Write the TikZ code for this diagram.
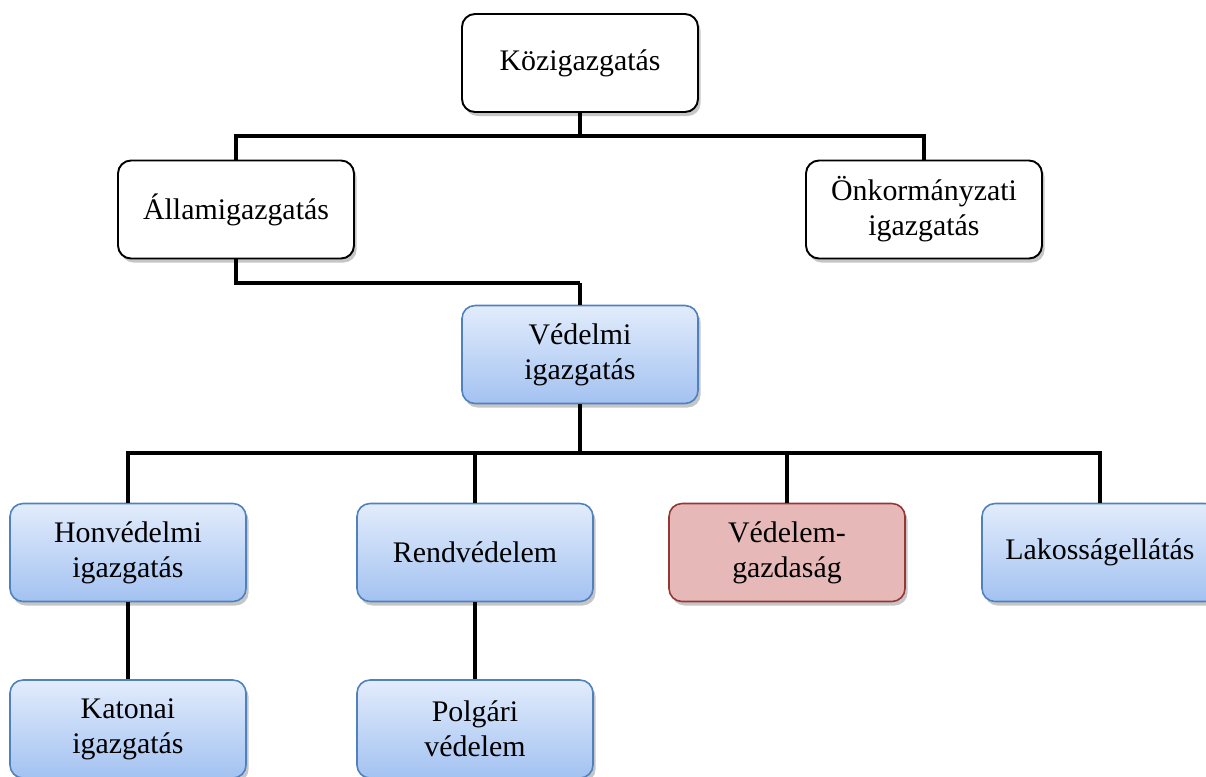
\documentclass[tikz,border=0pt]{standalone}
\usepackage{fontspec}
\setmainfont{Liberation Serif}
\usepackage{tikz}
\usetikzlibrary{calc}
\usetikzlibrary{positioning}
\usetikzlibrary{shadows}
\definecolor{blueborder}{HTML}{4F81BD}
\definecolor{bluetop}{HTML}{E2ECFC}
\definecolor{bluebottom}{HTML}{A3C2F1}
\definecolor{redfill}{HTML}{E6B8B7}
\definecolor{redborder}{HTML}{953735}
\tikzstyle{box} = [rounded corners=0.26cm, minimum width=4.72cm, minimum height=1.96cm, align=center, font=\fontsize{17}{20}\selectfont, drop shadow={shadow xshift=1.5pt, shadow yshift=-2.3pt, opacity=0.45}]
\tikzstyle{whitebox} = [box, draw=black, line width=1.1pt, fill=white]
\tikzstyle{bluebox} = [box, draw=blueborder, line width=0.9pt, top color=bluetop, bottom color=bluebottom]
\tikzstyle{redbox} = [box, draw=redborder, line width=0.9pt, fill=redfill]
\tikzstyle{conn} = [draw, line width=2.5pt]

\begin{document}
\begin{tikzpicture}[node distance=2.93cm]
                        \useasboundingbox (0,0) rectangle (24.12,-15.52);

                        \node[whitebox] at (11.6,-1.26) (kozig) {Közigazgatás};
                        \node[whitebox, below of=kozig, xshift=-6.88cm](allam) {Államigazgatás};
                        \node[whitebox, below of=kozig, xshift=6.88cm](onkorm) {Önkormányzati\\igazgatás};
                        \node[bluebox, below of=kozig, node distance=5.83cm](vedelmi) {Védelmi\\igazgatás};

                        \node[bluebox, below of=vedelmi, xshift=-9.04cm, node distance=3.96cm](honved) {Honvédelmi\\igazgatás};
                        \node[bluebox, below of=vedelmi, xshift=-2.1cm, node distance=3.96cm](rend) {Rendvédelem};
                        \node[redbox, below of=vedelmi, xshift=4.14cm, node distance=3.96cm](vgazd) {Védelem-\\gazdaság};
                        \node[bluebox, below of=vedelmi, xshift=10.4cm, node distance=3.96cm](lakos) {Lakosságellátás};

                        \node[bluebox, below of=honved, node distance=3.53cm](katonai) {Katonai\\igazgatás};
                        \node[bluebox, below of=rend, node distance=3.53cm](polgari) {Polgári\\védelem};

                        \coordinate (bus1) at ($(kozig.south)+(0,-0.46)$);
                        \coordinate (bus2) at ($(vedelmi.north)+(0,0.44)$);
                        \coordinate (bus3) at ($(vedelmi.south)+(0,-0.98)$);

                        \draw[conn](kozig.south) -- (bus1);
                        \draw[conn](allam.north) |- (bus1);
                        \draw[conn](onkorm.north) |- (bus1);

                        \draw[conn](allam.south) |- (bus2);
                        \draw[conn](bus2) -- (vedelmi.north);

                        \draw[conn](vedelmi.south) -- (bus3);
                        \draw[conn](honved.north) |- (bus3);
                        \draw[conn](rend.north) |- (bus3);
                        \draw[conn](vgazd.north) |- (bus3);
                        \draw[conn](lakos.north) |- (bus3);

                        \draw[conn](honved.south) -- (katonai.north);
                        \draw[conn](rend.south) -- (polgari.north);
                    \end{tikzpicture}
\end{document}
